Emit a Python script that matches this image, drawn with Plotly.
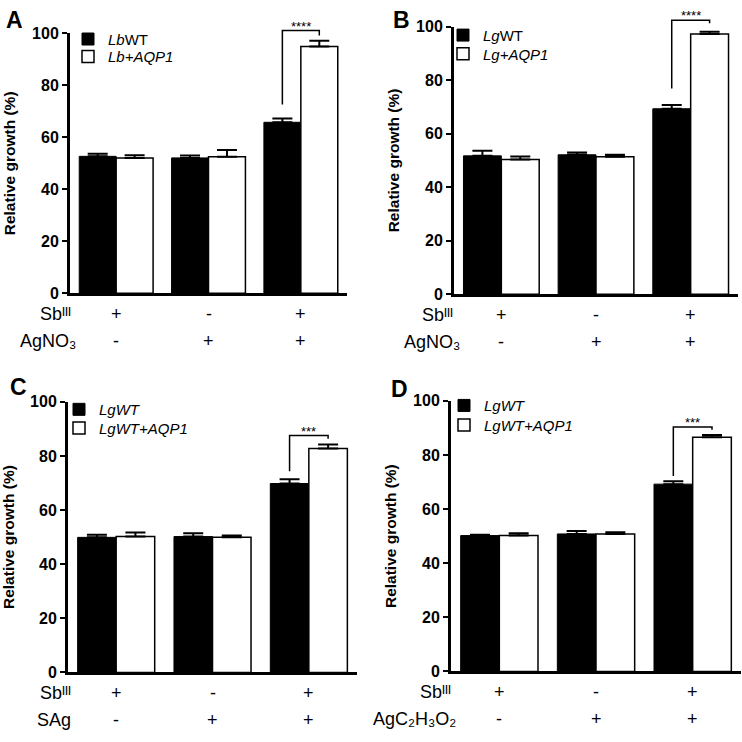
import plotly.graph_objects as go

# ---------------- data ----------------
positions = [0, 1, 2]                     # three treatment groups
sb_row = ["+", "-", "+"]                  # Sb(III) present?
row2_A = ["-", "+", "+"]
row2_B = ["-", "+", "+"]
row2_C = ["-", "+", "+"]
row2_D = ["-", "+", "+"]

A_wt = [52.7, 52.1, 65.8]
A_wt_err = [1.0, 0.9, 1.5]
A_aqp = [52.1, 52.5, 95.0]
A_aqp_err = [1.0, 2.6, 2.2]

B_wt = [51.7, 52.1, 69.3]
B_wt_err = [1.9, 0.9, 1.4]
B_aqp = [50.3, 51.4, 97.2]
B_aqp_err = [1.2, 0.7, 0.9]

C_wt = [49.9, 50.2, 69.8]
C_wt_err = [1.0, 1.2, 1.6]
C_aqp = [50.2, 49.9, 82.7]
C_aqp_err = [1.5, 0.7, 1.5]

D_wt = [50.2, 50.8, 69.2]
D_wt_err = [0.3, 1.1, 1.1]
D_aqp = [50.2, 50.8, 86.5]
D_aqp_err = [0.9, 0.6, 0.9]

# significance bracket: [left foot, top, right foot], label
A_sig = [72.6, 101.1, 99.2]
B_sig = [76.9, 102.4, 101.2]
C_sig = [74.3, 87.5, 86.3]
D_sig = [72.2, 90.3, 89.3]
A_star, B_star, C_star, D_star = "****", "****", "***", "***"

A_names = ["<i>Lb</i>WT", "<i>Lb+AQP1</i>"]
B_names = ["<i>Lg</i>WT", "<i>Lg+AQP1</i>"]
C_names = ["<i>LgWT</i>", "<i>LgWT+AQP1</i>"]
D_names = ["<i>LgWT</i>", "<i>LgWT+AQP1</i>"]

row1_label = "Sb\u1d35\u1d35\u1d35"          # Sb(III)
A_row2 = "AgNO\u2083"
B_row2 = "AgNO\u2083"
C_row2 = "SAg"
D_row2 = "AgC\u2082H\u2083O\u2082"

y_range = [0, 100]
y_ticks = [0, 20, 40, 60, 80, 100]

# ---------------- layout geometry ----------------
W = H = 742
FONT = "Arial, Liberation Sans, Helvetica, sans-serif"
BAR_OFFSET = 0.2  # bar centre offset inside a group (bargap 0.2, two bars)


def px_x(p):
    """pixel x -> paper fraction"""
    return p / W


def px_y(p):
    """pixel y (from top) -> paper fraction"""
    return 1 - p / H


def y_frac(v):
    """value -> fraction of the y-axis domain (through the axis range)."""
    return (v - y_range[0]) / (y_range[1] - y_range[0])


panels = [
    dict(letter="A", wt=A_wt, wte=A_wt_err, aq=A_aqp, aqe=A_aqp_err, sig=A_sig, star=A_star,
         names=A_names, row2=A_row2, row2signs=row2_A,
         xd=(70, 347), y0=292, y100=26, letter_xy=(14, 12),
         leg=(68, 32, 50), lab_shift=(3, 8)),
    dict(letter="B", wt=B_wt, wte=B_wt_err, aq=B_aqp, aqe=B_aqp_err, sig=B_sig, star=B_star,
         names=B_names, row2=B_row2, row2signs=row2_B,
         xd=(454, 738), y0=293, y100=19, letter_xy=(401, 12),
         leg=(443, 28, 47), lab_shift=(1, 8)),
    dict(letter="C", wt=C_wt, wte=C_wt_err, aq=C_aqp, aqe=C_aqp_err, sig=C_sig, star=C_star,
         names=C_names, row2=C_row2, row2signs=row2_C,
         xd=(68, 357), y0=680, y100=403, letter_xy=(18, 388),
         leg=(59, 411, 430), lab_shift=(5, 5)),
    dict(letter="D", wt=D_wt, wte=D_wt_err, aq=D_aqp, aqe=D_aqp_err, sig=D_sig, star=D_star,
         names=D_names, row2=D_row2, row2signs=row2_D,
         xd=(451, 741), y0=679, y100=402, letter_xy=(399, 390),
         leg=(444, 407, 427), lab_shift=(2, 7)),
]

fig = go.Figure()
layout = dict(
    width=W, height=H,
    margin=dict(l=0, r=0, t=0, b=0),
    paper_bgcolor="white", plot_bgcolor="white",
    barmode="group", bargap=0.2, bargroupgap=0,
    showlegend=True,
    font=dict(family=FONT, color="black"),
)
annotations = []
shapes = []
leg_n = 0

for i, p in enumerate(panels, start=1):
    xa = "x" if i == 1 else f"x{i}"
    ya = "y" if i == 1 else f"y{i}"

    series = [(p["wt"], p["wte"], "black", 1.0), (p["aq"], p["aqe"], "white", 1.5)]
    for k, (vals, errs, col, lw) in enumerate(series):
        leg_n += 1
        leg = "legend" if leg_n == 1 else f"legend{leg_n}"
        fig.add_trace(go.Bar(
            x=positions, y=vals, name=p["names"][k], xaxis=xa, yaxis=ya, legend=leg,
            showlegend=True,
            marker=dict(color=col, line=dict(color="black", width=lw)),
            error_y=dict(type="data", array=errs, arrayminus=[0] * len(errs),
                         symmetric=False, color="black", thickness=2, width=10),
        ))
        layout[leg] = dict(
            visible=True,
            x=px_x(p["leg"][0]), y=px_y(p["leg"][1 + k]), xanchor="left", yanchor="middle",
            bgcolor="rgba(0,0,0,0)", borderwidth=0,
            font=dict(size=15, family=FONT, color="black"), itemwidth=30,
        )

    # significance bracket between the two bars of the last group
    g = positions[-1]
    xl, xr = g - BAR_OFFSET, g + BAR_OFFSET
    s0, s1, s2 = (y_frac(v) for v in p["sig"])
    shapes.append(dict(
        type="path", xref=xa, yref=f"{ya} domain",
        path=f"M {xl},{s0} L {xl},{s1} L {xr},{s1} L {xr},{s2}",
        line=dict(color="black", width=1.5), layer="above",
    ))
    annotations.append(dict(
        x=g, y=s1, xref=xa, yref=f"{ya} domain", text=p["star"], showarrow=False,
        xanchor="center", yanchor="bottom", yshift=-5,
        font=dict(size=13, family=FONT, color="black"),
    ))

    xkey = "xaxis" if i == 1 else f"xaxis{i}"
    ykey = "yaxis" if i == 1 else f"yaxis{i}"
    layout[xkey] = dict(
        domain=[px_x(p["xd"][0]), px_x(p["xd"][1])], anchor=ya,
        range=[-0.5, 2.5], showticklabels=False, ticks="", showgrid=False,
        zeroline=False, showline=True, linecolor="black", linewidth=3, fixedrange=True,
    )
    layout[ykey] = dict(
        domain=[px_y(p["y0"]), px_y(p["y100"])], anchor=xa, range=y_range,
        tickvals=y_ticks, ticks="outside", ticklen=5, tickwidth=2, tickcolor="black",
        tickfont=dict(size=16, family=FONT, color="black", weight="bold"),
        showgrid=False, zeroline=False, showline=True, linecolor="black", linewidth=3,
        title=dict(text="Relative growth (%)", standoff=13,
                   font=dict(size=15.5, family=FONT, color="black", weight="bold")),
        fixedrange=True,
    )

    # panel letter
    annotations.append(dict(
        x=px_x(p["letter_xy"][0]), y=px_y(p["letter_xy"][1]), xref="paper", yref="paper",
        text=p["letter"], showarrow=False, xanchor="center", yanchor="middle",
        font=dict(size=23, family=FONT, color="black", weight="bold"),
    ))
    # treatment rows below the axis
    for row, (label, signs, ysh) in enumerate([(row1_label, sb_row, -21),
                                               (p["row2"], p["row2signs"], -48)]):
        annotations.append(dict(
            x=0, y=0, xref=f"{xa} domain", yref=ya, text=label, showarrow=False,
            xanchor="right", yanchor="middle", xshift=p["lab_shift"][row], yshift=ysh,
            font=dict(size=18, family=FONT, color="black"),
        ))
        for pos, s in zip(positions, signs):
            annotations.append(dict(
                x=pos, y=0, xref=xa, yref=ya, text=s, showarrow=False,
                xanchor="center", yanchor="middle", yshift=ysh,
                font=dict(size=18, family=FONT, color="black"),
            ))

layout["annotations"] = annotations
layout["shapes"] = shapes
fig.update_layout(**layout)
fig.write_html(
    "out.html",
    config={"displayModeBar": False, "staticPlot": True},
    post_script="document.body.style.margin='0';document.body.style.overflow='hidden';",
)
